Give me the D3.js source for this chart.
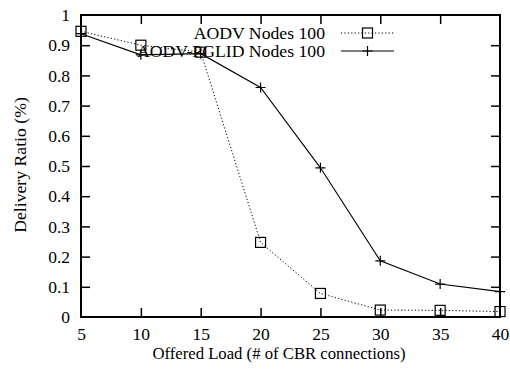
<!DOCTYPE html>
<html>
<head>
<meta charset="utf-8">
<script src="https://cdn.jsdelivr.net/npm/d3@7"></script>
<style>
  html, body { margin: 0; padding: 0; background: #fff; }
  svg { display: block; }
  text { font-family: "Liberation Serif", "Times New Roman", serif; fill: #000; }
</style>
</head>
<body>
<svg id="chart" width="510" height="371"></svg>
<script>
// Offered load (number of CBR connections)
const loads = [5, 10, 15, 20, 25, 30, 35, 40];
// Delivery ratio per protocol
const aodv = [0.946, 0.90, 0.877, 0.247, 0.078, 0.023, 0.022, 0.018];
const pglid = [0.938, 0.868, 0.872, 0.760, 0.494, 0.186, 0.109, 0.084];
const seriesNames = ["AODV Nodes 100", "AODV-PGLID Nodes 100"];
const xTicks = [5, 10, 15, 20, 25, 30, 35, 40];
const yTicks = [0, 0.1, 0.2, 0.3, 0.4, 0.5, 0.6, 0.7, 0.8, 0.9, 1];

const svg = d3.select("#chart");
const m = { left: 81, right: 500, top: 15, bottom: 317 };
const x = d3.scaleLinear().domain([5, 40]).range([m.left, m.right]);
const y = d3.scaleLinear().domain([0, 1]).range([m.bottom, m.top]);
const tickFs = 17.5, legFs = 17.7, titleFs = 16.7, tickLen = 9;
const serif = '"Liberation Serif", "Times New Roman", serif';

// Axes with inward ticks, mirrored on top and right
const gBottom = svg.append("g").attr("transform", `translate(0,${m.bottom})`)
  .call(d3.axisBottom(x).tickValues(xTicks).tickSize(-tickLen).tickPadding(11).tickFormat(d3.format("d")));
const gTop = svg.append("g").attr("transform", `translate(0,${m.top})`)
  .call(d3.axisTop(x).tickValues(xTicks).tickSize(-tickLen).tickFormat(""));
const gLeft = svg.append("g").attr("transform", `translate(${m.left},0)`)
  .call(d3.axisLeft(y).tickValues(yTicks).tickSize(-tickLen).tickPadding(11)
    .tickFormat(d => d === 0 || d === 1 ? d3.format("d")(d) : d3.format(".1f")(d)));
const gRight = svg.append("g").attr("transform", `translate(${m.right},0)`)
  .call(d3.axisRight(y).tickValues(yTicks).tickSize(-tickLen).tickFormat(""));

[gBottom, gTop, gLeft, gRight].forEach(g => {
  g.select(".domain").remove();
  g.selectAll(".tick line").attr("stroke", "#000").attr("stroke-width", 1.5);
  g.selectAll(".tick text").style("font-size", tickFs + "px").style("font-family", serif);
});
// Skip the end ticks that coincide with the frame
gBottom.selectAll(".tick").filter(d => d === 5 || d === 40).select("line").remove();
gTop.selectAll(".tick").filter(d => d === 5 || d === 40).select("line").remove();
gLeft.selectAll(".tick").filter(d => d === 0 || d === 1).select("line").remove();
gRight.selectAll(".tick").filter(d => d === 0 || d === 1).select("line").remove();

// Frame
svg.append("rect")
  .attr("x", m.left).attr("y", m.top)
  .attr("width", m.right - m.left).attr("height", m.bottom - m.top)
  .attr("fill", "none").attr("stroke", "#000").attr("stroke-width", 2);

// Axis titles
svg.append("text")
  .attr("x", 279).attr("y", 359)
  .attr("text-anchor", "middle").style("font-size", titleFs + "px")
  .text("Offered Load (# of CBR connections)");
svg.append("text")
  .attr("transform", `translate(26,165) rotate(-90)`)
  .attr("text-anchor", "middle").style("font-size", legFs + "px")
  .text("Delivery Ratio (%)");

const line = d3.line().x(d => x(d[0])).y(d => y(d[1]));
const aodvPts = loads.map((l, i) => [l, aodv[i]]);
const pglidPts = loads.map((l, i) => [l, pglid[i]]);

// AODV: dotted line with open squares
svg.append("path").datum(aodvPts).attr("d", line)
  .attr("fill", "none").attr("stroke", "#000").attr("stroke-width", 1)
  .attr("stroke-dasharray", "1.2,2.2");
// AODV-PGLID: solid line with plus markers
svg.append("path").datum(pglidPts).attr("d", line)
  .attr("fill", "none").attr("stroke", "#000").attr("stroke-width", 1.1);

const sq = 10, pl = 10;
function square(g, cx, cy) {
  g.append("rect").attr("x", cx - sq / 2).attr("y", cy - sq / 2)
    .attr("width", sq).attr("height", sq)
    .attr("fill", "none").attr("stroke", "#000").attr("stroke-width", 1.2);
}
function plus(g, cx, cy) {
  g.append("path").attr("d", `M${cx - pl / 2},${cy}H${cx + pl / 2}M${cx},${cy - pl / 2}V${cy + pl / 2}`)
    .attr("stroke", "#000").attr("stroke-width", 1.2);
}
const mk = svg.append("g");
aodvPts.forEach(d => square(mk, x(d[0]), y(d[1])));
pglidPts.forEach(d => plus(mk, x(d[0]), y(d[1])));

// Legend
const lg = svg.append("g");
const legRows = [
  { name: seriesNames[0], y: 33, dash: "1.2,2.2", marker: square },
  { name: seriesNames[1], y: 51, dash: null, marker: plus }
];
legRows.forEach(r => {
  lg.append("text").attr("x", 325).attr("y", r.y + 5.5)
    .attr("text-anchor", "end").style("font-size", legFs + "px").text(r.name);
  const p = lg.append("line").attr("x1", 341).attr("x2", 394)
    .attr("y1", r.y).attr("y2", r.y)
    .attr("stroke", "#000").attr("stroke-width", 1);
  if (r.dash) p.attr("stroke-dasharray", r.dash);
  r.marker(lg, 367.5, r.y);
});
</script>
</body>
</html>
